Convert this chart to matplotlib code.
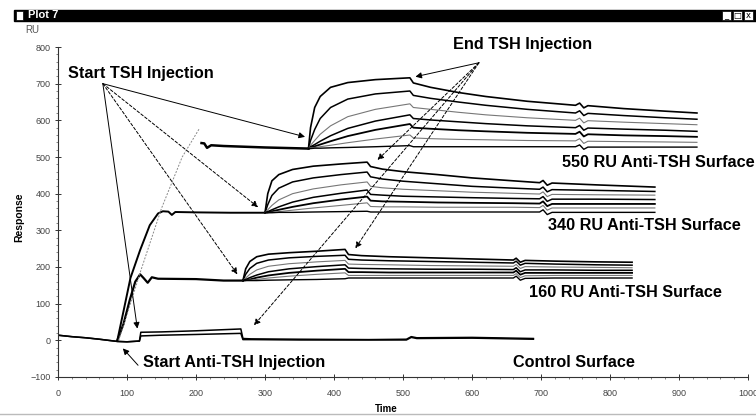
import numpy as np
import matplotlib.pyplot as plt
from matplotlib.patches import Rectangle

plt.rcParams["font.family"] = ["Liberation Sans", "DejaVu Sans"]

# ---- control surface (two overlapping traces)
ctrl_t = [0, 20, 40, 60, 86, 100, 118, 120, 150, 200, 265, 268, 280, 350, 450, 505, 512, 520, 600, 689]
ctrl_hi = [14, 10, 7, 3, -3, -4, -2, 22, 23, 26, 31, 5, 4, 3, 2, 3, 10, 7, 8, 5]
ctrl_lo = [14, 10, 7, 3, -3, -4, -2, 12, 14, 16, 19, 2, 2, 1, 1, 1, 8, 5, 6, 3]

# ---- anti-TSH capture: rise + baseline of each surface
b160_t = [86, 95, 104, 112, 119, 124, 130, 136, 145, 200, 240, 268]
b160_y = [0, 45, 110, 160, 180, 170, 157, 172, 168, 167, 163, 163]

b340_t = [86, 95, 105, 119, 133, 145, 152, 160, 165, 170, 200, 250, 300]
b340_y = [0, 80, 170, 246, 314, 346, 352, 351, 342, 350, 349, 348, 348]

r550_t = [88, 100, 120, 150, 180, 205]
r550_y = [0, 70, 190, 360, 500, 578]
b550_t = [208, 212, 216, 222, 240, 300, 363]
b550_y = [538, 537, 525, 532, 530, 526, 523]

# ---- TSH injections, 160 RU surface
tsh160_t = [268, 272, 278, 288, 305, 335, 375, 416, 421, 440, 480, 540, 600, 660, 664, 670, 677, 720, 780, 832]
tsh160 = [
    [163, 195, 215, 228, 235, 239, 243, 248, 234, 231, 228, 225, 222, 219, 224, 213, 218, 216, 214, 213],
    [163, 180, 196, 210, 219, 225, 229, 232, 221, 219, 217, 215, 213, 211, 216, 205, 210, 208, 206, 205],
    [163, 170, 180, 192, 202, 209, 214, 218, 208, 207, 206, 204, 203, 202, 207, 196, 201, 200, 199, 198],
    [163, 166, 171, 178, 187, 195, 201, 206, 197, 196, 195, 194, 194, 193, 198, 187, 192, 192, 191, 191],
    [163, 164, 166, 171, 177, 184, 190, 195, 186, 186, 185, 185, 185, 185, 190, 179, 184, 184, 184, 184],
    [163, 163, 164, 166, 170, 175, 180, 184, 177, 177, 177, 177, 177, 177, 182, 171, 176, 177, 177, 177],
    [163, 163, 163, 163, 164, 165, 166, 168, 170, 170, 170, 170, 170, 170, 175, 164, 169, 170, 170, 170],
]

# ---- TSH injections, 340 RU surface
tsh340_t = [300, 304, 310, 320, 340, 370, 410, 448, 453, 470, 500, 550, 600, 660, 698, 703, 709, 716, 780, 865]
tsh340 = [
    [348, 400, 435, 452, 466, 475, 481, 486, 474, 467, 460, 452, 443, 435, 430, 436, 423, 429, 424, 418],
    [348, 370, 395, 415, 432, 443, 452, 459, 446, 440, 434, 427, 420, 415, 412, 418, 405, 411, 409, 406],
    [348, 356, 368, 383, 400, 413, 424, 432, 420, 416, 412, 408, 404, 401, 399, 405, 392, 398, 397, 396],
    [348, 351, 356, 364, 377, 390, 401, 410, 398, 396, 393, 391, 389, 387, 386, 392, 379, 385, 385, 384],
    [348, 349, 352, 356, 364, 374, 384, 392, 381, 379, 378, 376, 375, 374, 373, 379, 366, 372, 372, 372],
    [348, 348, 349, 351, 355, 361, 368, 375, 365, 364, 364, 363, 363, 363, 362, 368, 355, 361, 361, 361],
    [348, 348, 348, 349, 349, 350, 351, 352, 350, 350, 350, 350, 350, 350, 350, 356, 343, 349, 349, 349],
]

# ---- TSH injections, 550 RU surface
tsh550_t = [363, 366, 372, 380, 395, 420, 460, 510, 515, 540, 580, 620, 680, 750, 756, 762, 768, 820, 880, 926]
tsh550 = [
    [523, 580, 635, 665, 690, 703, 711, 716, 702, 690, 676, 665, 652, 641, 647, 634, 640, 632, 625, 620],
    [523, 545, 575, 605, 635, 658, 672, 680, 668, 660, 650, 641, 630, 620, 626, 613, 619, 613, 607, 603],
    [523, 532, 545, 562, 585, 610, 630, 645, 635, 630, 622, 615, 607, 600, 606, 593, 599, 595, 591, 588],
    [523, 528, 534, 543, 558, 578, 598, 615, 605, 601, 596, 591, 585, 580, 586, 573, 579, 576, 573, 570],
    [523, 526, 529, 534, 543, 557, 574, 590, 580, 577, 573, 570, 566, 563, 569, 556, 562, 559, 557, 555],
    [523, 525, 526, 528, 532, 539, 549, 560, 552, 550, 548, 547, 545, 544, 550, 537, 543, 542, 541, 540],
    [523, 523, 524, 524, 525, 526, 528, 531, 528, 528, 528, 528, 528, 528, 533, 521, 527, 527, 527, 527],
]

# scanned look: some traces dark, some faint
trace_styles = [
    ("black", 1.2), ("black", 1.1), ("#777777", 0.8), ("black", 1.1),
    ("black", 1.3), ("#777777", 0.8), ("black", 1.0),
]

fig = plt.figure(figsize=(7.56, 4.17), dpi=100)
W, H = 756, 417

# window title bar
fig.patches.append(Rectangle((14 / W, (H - 21) / H), (W - 14) / W, 11 / H,
                             transform=fig.transFigure, color="black"))
fig.patches.append(Rectangle((16 / W, (H - 20) / H), 7 / W, 9 / H,
                             transform=fig.transFigure, facecolor="white", edgecolor="black", lw=0.5))
fig.text(28 / W, 1 - 15.5 / H, "Plot 7", color="white", fontsize=8, fontweight="bold", va="center")
for i, sym in enumerate(["_", "\u25a1", "x"]):
    x0 = 722 + i * 11
    fig.patches.append(Rectangle((x0 / W, (H - 20) / H), 9 / W, 9 / H,
                                 transform=fig.transFigure, facecolor="white", edgecolor="black", lw=0.5))
    fig.text((x0 + 4.5) / W, 1 - 15.5 / H, sym, fontsize=6, ha="center", va="center",
             family="DejaVu Sans")

# bottom window border
fig.add_artist(plt.Line2D([0, 1], [3 / H, 3 / H], color="#bbbbbb", lw=1.0))

ax = fig.add_axes([58 / W, 40 / H, 690 / W, 330 / H])

ax.plot(ctrl_t, ctrl_hi, color="black", lw=1.1)
ax.plot(ctrl_t, ctrl_lo, color="black", lw=1.1)

ax.plot(b160_t, b160_y, color="black", lw=1.6)
ax.plot(b340_t, b340_y, color="black", lw=1.4)
ax.plot(r550_t, r550_y, color="#888888", lw=0.7, linestyle=(0, (2, 1.5)))
ax.plot(b550_t, b550_y, color="black", lw=1.8)

for t, rows in [(tsh160_t, tsh160), (tsh340_t, tsh340), (tsh550_t, tsh550)]:
    for row, (c, lw) in zip(rows, trace_styles):
        ax.plot(t, row, color=c, lw=lw)

ax.set_xlim(0, 1000)
ax.set_ylim(-100, 800)
ax.set_xticks(np.arange(0, 1001, 100))
ax.set_yticks(np.arange(-100, 801, 100))
ax.set_xticks(np.arange(0, 1001, 20), minor=True)
ax.set_yticks(np.arange(-100, 801, 20), minor=True)
ax.tick_params(which="major", direction="inout", length=5, width=0.7, labelsize=6.5,
               labelcolor="#444444", color="#333333")
ax.tick_params(which="minor", direction="out", length=1.5, width=0.5, color="#555555")
ax.tick_params(axis="x", pad=6)
ax.tick_params(axis="y", pad=3)
for s in ["top", "right"]:
    ax.spines[s].set_visible(False)
for s in ["left", "bottom"]:
    ax.spines[s].set_linewidth(0.8)
    ax.spines[s].set_color("#333333")
ax.patch.set_alpha(0)

fig.text(32 / W, 1 - 30 / H, "RU", fontsize=7, color="#555555", ha="center", va="center")
fig.text(19 / W, 1 - 217 / H, "Response", fontsize=7.5, fontweight="bold", rotation=90,
         ha="center", va="center")
fig.text(386 / W, 1 - 409 / H, "Time", fontsize=7, fontweight="bold", ha="center", va="center")

# annotations
big = dict(fontsize=11.7, fontweight="bold", va="center", ha="left")
ax.text(14, 729, "Start TSH Injection", **big)
ax.text(572, 806, "End TSH Injection", **big)
ax.text(731, 486, "550 RU Anti-TSH Surface", **big)
ax.text(710, 314, "340 RU Anti-TSH Surface", **big)
ax.text(682, 131, "160 RU Anti-TSH Surface", **big)
ax.text(660, -60, "Control Surface", **big)
ax.text(123, -60, "Start Anti-TSH Injection", **big)

solid = "-"
dash = (0, (3, 2))
start_src = (65, 700)
start_tgt = [((358, 555), solid), ((290, 363), dash), ((260, 180), dash), ((115, 32), solid)]
end_src = (610, 757)
end_tgt = [((518, 719), solid), ((463, 492), dash), ((431, 251), dash), ((284, 41), dash)]

for src, targets in [(start_src, start_tgt), (end_src, end_tgt)]:
    for tgt, ls in targets:
        ax.annotate("", xy=tgt, xytext=src,
                    arrowprops=dict(arrowstyle="-|>", lw=0.7, color="black", linestyle=ls,
                                    mutation_scale=9, shrinkA=0, shrinkB=0))

ax.annotate("", xy=(94, -22), xytext=(116, -68),
            arrowprops=dict(arrowstyle="-|>", lw=0.7, color="black",
                            mutation_scale=9, shrinkA=0, shrinkB=0))

fig.savefig("out.png", dpi=100)
